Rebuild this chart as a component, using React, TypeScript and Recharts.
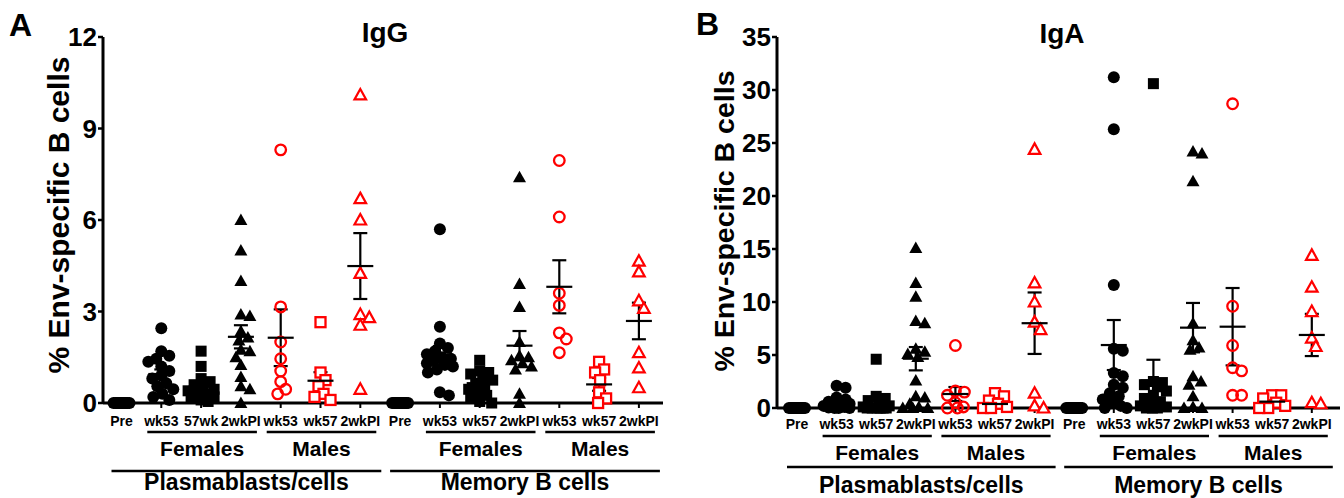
import React from "react";
import { ScatterChart, Scatter, XAxis, YAxis, ErrorBar } from "recharts";

const FONT = "'Liberation Sans', Arial, Helvetica, sans-serif";
const RED = "#ff0000";

// x-axis groups (same order in both panels)
const groupsIgG = ["Pre", "wk53", "57wk", "2wkPI", "wk53", "wk57", "2wkPI", "Pre", "wk53", "wk57", "2wkPI", "wk53", "wk57", "2wkPI"];
const groupsIgA = ["Pre", "wk53", "wk57", "2wkPI", "wk53", "wk57", "2wkPI", "Pre", "wk53", "wk57", "2wkPI", "wk53", "wk57", "2wkPI"];
const groupMarkers = ["dot", "dot", "square", "triangle", "ocircle", "osquare", "otriangle", "dot", "dot", "square", "triangle", "ocircle", "osquare", "otriangle"];

const brackets = [
  { from: 1, to: 3, label: "Females", level: 1 },
  { from: 4, to: 6, label: "Males", level: 1 },
  { from: 0, to: 6, label: "Plasmablasts/cells", level: 2 },
  { from: 8, to: 10, label: "Females", level: 1 },
  { from: 11, to: 13, label: "Males", level: 1 },
  { from: 7, to: 13, label: "Memory B cells", level: 2 },
];

// ---- IgG values (% Env-specific B cells)
const iggPlasmaPre = [0, 0, 0, 0, 0, 0, 0, 0, 0, 0, 0, 0, 0, 0, 0];
const iggPlasmaFemWk53 = [2.45, 1.7, 1.55, 1.45, 1.35, 1.2, 1.05, 0.9, 0.8, 0.65, 0.55, 0.45, 0.3, 0.2, 0.1];
const iggPlasmaFemWk57 = [1.7, 1.2, 0.8, 0.7, 0.6, 0.55, 0.45, 0.4, 0.35, 0.3, 0.2, 0.15, 0.1, 0.05];
const iggPlasmaFem2wkPI = [6.0, 5.0, 4.0, 2.9, 2.85, 2.35, 2.15, 2.05, 1.75, 1.7, 1.5, 1.25, 0.85, 0.55, 0.45, 0];
const iggPlasmaMaleWk53 = [8.3, 3.15, 2.0, 1.45, 1.05, 0.7, 0.45, 0.3];
const iggPlasmaMaleWk57 = [2.65, 1.0, 0.75, 0.55, 0.3, 0.2, 0.1];
const iggPlasmaMale2wkPI = [10.1, 6.7, 6.0, 4.25, 2.9, 2.8, 2.55, 0.45];
const iggMemPre = [0, 0, 0, 0, 0, 0, 0, 0, 0, 0, 0, 0, 0, 0, 0];
const iggMemFemWk53 = [5.7, 2.5, 1.95, 1.8, 1.7, 1.6, 1.5, 1.45, 1.4, 1.3, 1.25, 1.2, 1.1, 1.0, 0.35, 0.25];
const iggMemFemWk57 = [1.4, 1.05, 1.0, 0.95, 0.85, 0.75, 0.65, 0.55, 0.45, 0.35, 0.25, 0.15, 0.05, 0];
const iggMemFem2wkPI = [7.4, 3.9, 3.15, 2.0, 1.55, 1.5, 1.4, 1.3, 1.2, 1.1, 0.3, 0];
const iggMemMaleWk53 = [7.95, 6.1, 3.6, 3.2, 2.3, 2.1, 1.65];
const iggMemMaleWk57 = [1.35, 1.1, 1.0, 0.75, 0.35, 0.15, 0];
const iggMemMale2wkPI = [4.65, 4.3, 3.35, 3.1, 1.65, 1.15, 0.5];
const iggMeans = [null, 0.95, 0.53, 2.17, 2.14, 0.73, 4.49, null, 1.57, 0.65, 1.88, 3.81, 0.61, 2.69];
const iggSems = [0, 0.15, 0.13, 0.38, 0.93, 0.28, 1.08, 0, 0.3, 0.1, 0.48, 0.87, 0.21, 0.6];

// ---- IgA values
const igaPlasmaPre = [0, 0, 0, 0, 0, 0, 0, 0, 0, 0, 0, 0, 0, 0, 0];
const igaPlasmaFemWk53 = [2.1, 1.9, 1.0, 0.8, 0.6, 0.5, 0.4, 0.3, 0.2, 0.1, 0.05, 0, 0, 0];
const igaPlasmaFemWk57 = [4.6, 1.1, 0.9, 0.7, 0.4, 0.2, 0.1, 0, 0, 0, 0, 0, 0];
const igaPlasmaFem2wkPI = [15.1, 11.8, 10.5, 8.2, 8.0, 5.6, 5.3, 5.1, 4.8, 2.6, 1.1, 1.0, 0.4, 0.1, 0, 0, 0];
const igaPlasmaMaleWk53 = [5.9, 1.6, 1.5, 1.2, 0.5, 0.1, 0, 0];
const igaPlasmaMaleWk57 = [1.4, 1.1, 0.7, 0.4, 0.1, 0, 0];
const igaPlasmaMale2wkPI = [24.4, 11.8, 10.0, 8.1, 7.4, 1.4, 0.2, 0];
const igaMemPre = [0, 0, 0, 0, 0, 0, 0, 0, 0, 0, 0, 0, 0, 0, 0];
const igaMemFemWk53 = [31.2, 26.3, 11.6, 5.6, 5.4, 3.3, 3.0, 2.2, 1.9, 1.4, 1.1, 0.8, 0.5, 0.2, 0, 0];
const igaMemFemWk57 = [30.6, 2.5, 2.4, 2.2, 2.0, 1.6, 1.2, 0.9, 0.6, 0.4, 0.2, 0.1, 0, 0, 0];
const igaMemFem2wkPI = [24.2, 24.0, 21.4, 8.0, 6.4, 5.7, 5.5, 3.0, 2.5, 2.2, 1.1, 0.1, 0, 0];
const igaMemMaleWk53 = [28.7, 9.6, 5.9, 3.8, 3.5, 1.2, 1.2];
const igaMemMaleWk57 = [1.2, 1.2, 0.9, 0.5, 0.2, 0, 0];
const igaMemMale2wkPI = [14.4, 11.4, 9.1, 6.6, 5.8, 0.5, 0.4];
const igaMeans = [null, 0.55, 0.62, 4.65, 1.32, 0.38, 8.0, null, 5.94, 2.6, 7.58, 7.67, 0.6, 6.89];
const igaSems = [0, 0.2, 0.35, 1.1, 0.66, 0.15, 2.9, 0, 2.36, 1.95, 2.33, 3.65, 0.15, 1.99];

const iggTicks = [0, 3, 6, 9, 12];
const igaTicks = [0, 5, 10, 15, 20, 25, 30, 35];

// simple beeswarm: spread points sideways (pixels) so markers don't pile up
function swarm(values: number[], pxPerUnit: number, spread: number, gap = 9) {
  const order = values.map((_, i) => i).sort((a, b) => values[b] - values[a]);
  const placed: { dx: number; py: number }[] = [];
  const out = new Array(values.length).fill(0);
  const cands: number[] = [];
  for (let d = 0; d <= spread; d++) {
    cands.push(d);
    if (d) cands.push(-d);
  }
  for (const i of order) {
    const py = values[i] * pxPerUnit;
    let best = 0;
    let bestD = -1;
    for (const dx of cands) {
      let m = Infinity;
      for (const p of placed) m = Math.min(m, Math.hypot(p.dx - dx, p.py - py));
      if (m >= gap) {
        best = dx;
        break;
      }
      if (m > bestD) {
        bestD = m;
        best = dx;
      }
    }
    placed.push({ dx: best, py });
    out[i] = best;
  }
  return out;
}

function Marker({ cx, cy, kind }: { cx: number; cy: number; kind: string }) {
  if (cx == null || cy == null) return null;
  switch (kind) {
    case "square":
      return <rect x={cx - 5.5} y={cy - 5.5} width={11} height={11} fill="#000" />;
    case "triangle":
      return <path d={`M${cx},${cy - 6.5}L${cx + 6.5},${cy + 5}L${cx - 6.5},${cy + 5}Z`} fill="#000" />;
    case "ocircle":
      return <circle cx={cx} cy={cy} r={5.3} fill="none" stroke={RED} strokeWidth={2.3} />;
    case "osquare":
      return <rect x={cx - 5} y={cy - 5} width={10} height={10} fill="#fff" stroke={RED} strokeWidth={2.3} />;
    case "otriangle":
      return (
        <path d={`M${cx},${cy - 6}L${cx + 5.8},${cy + 4.5}L${cx - 5.8},${cy + 4.5}Z`} fill="#fff" stroke={RED} strokeWidth={2.2} />
      );
    default:
      return <circle cx={cx} cy={cy} r={6} fill="#000" />;
  }
}

function MeanLine(p: any) {
  if (p.cx == null) return null;
  return <line x1={p.cx - 13} x2={p.cx + 13} y1={p.cy} y2={p.cy} stroke="#000" strokeWidth={2.2} />;
}

type Cfg = {
  w: number;
  plotLeft: number;
  plotRight: number;
  plotTop: number;
  plotBottom: number;
  firstX: number;
  step: number;
  yMax: number;
  yTicks: number[];
  labels: string[];
  series: number[][];
  means: (number | null)[];
  sems: number[];
  labelDy: number;
  l1: number;
  t1: number;
  l2: number;
  t2: number;
};

function Panel({ cfg }: { cfg: Cfg }) {
  const { w, plotLeft, plotRight, plotTop, plotBottom, step, yMax } = cfg;
  const pxPerUnit = (plotBottom - plotTop) / yMax;
  const xMin = -(cfg.firstX - plotLeft) / step;
  const xMax = xMin + (plotRight - plotLeft) / step;

  const scatterData = cfg.series.map((vals, g) => {
    const dx = swarm(vals, pxPerUnit, g % 7 === 0 ? 8 : 13);
    return vals.map((v, i) => ({ x: g + dx[i] / step, y: v }));
  });
  const meanData = cfg.means
    .map((m, g) => (m == null ? null : { x: g, y: m, err: cfg.sems[g] }))
    .filter(Boolean) as { x: number; y: number; err: number }[];

  const XTick = (props: any) => {
    const { x, payload } = props;
    const g = payload.value as number;
    const ay = plotBottom;
    const txt = { fontFamily: FONT, fontWeight: "bold" as const, fill: "#000", textAnchor: "middle" as const };
    return (
      <g>
        <text x={x} y={ay + cfg.labelDy} fontSize={14} {...txt}>
          {cfg.labels[g]}
        </text>
        {brackets
          .filter((b) => b.from === g)
          .map((b, k) => {
            const x1 = x + (b.level === 1 ? -14 : -10);
            const x2 = x + (b.to - b.from) * step + (b.level === 1 ? 16 : 21);
            const ly = ay + (b.level === 1 ? cfg.l1 : cfg.l2);
            const ty = ay + (b.level === 1 ? cfg.t1 : cfg.t2);
            return (
              <g key={k}>
                <line x1={x1} x2={x2} y1={ly} y2={ly} stroke="#000" strokeWidth={2.5} />
                <text x={(x1 + x2) / 2} y={ty} fontSize={b.level === 1 ? 21 : 23} {...txt}>
                  {b.label}
                </text>
              </g>
            );
          })}
      </g>
    );
  };

  return (
    <ScatterChart
      width={w}
      height={498}
      margin={{ top: plotTop, right: w - plotRight, bottom: 498 - plotBottom - 30, left: plotLeft - 60 }}
    >
      <XAxis
        type="number"
        dataKey="x"
        domain={[xMin, xMax]}
        ticks={cfg.labels.map((_, i) => i)}
        interval={0}
        height={30}
        tickSize={5}
        axisLine={{ stroke: "#000", strokeWidth: 3 }}
        tickLine={{ stroke: "#000", strokeWidth: 2 }}
        tick={XTick}
      />
      <YAxis
        type="number"
        dataKey="y"
        domain={[0, yMax]}
        ticks={cfg.yTicks}
        interval={0}
        width={60}
        tickSize={5}
        tickMargin={1}
        axisLine={{ stroke: "#000", strokeWidth: 3 }}
        tickLine={{ stroke: "#000", strokeWidth: 2.5 }}
        tick={{ fill: "#000", fontSize: 26, fontWeight: "bold", fontFamily: FONT }}
      />
      {scatterData.map((d, g) => (
        <Scatter
          key={g}
          data={d}
          isAnimationActive={false}
          shape={(p: any) => <Marker cx={p.cx} cy={p.cy} kind={groupMarkers[g]} />}
        />
      ))}
      <Scatter data={meanData} isAnimationActive={false} shape={MeanLine}>
        <ErrorBar dataKey="err" direction="y" width={7} stroke="#000" strokeWidth={2.2} isAnimationActive={false} />
      </Scatter>
    </ScatterChart>
  );
}

const cfgA: Cfg = {
  w: 680,
  plotLeft: 103,
  plotRight: 663,
  plotTop: 37,
  plotBottom: 403,
  firstX: 121.5,
  step: 39.8,
  yMax: 12,
  yTicks: iggTicks,
  labels: groupsIgG,
  series: [
    iggPlasmaPre, iggPlasmaFemWk53, iggPlasmaFemWk57, iggPlasmaFem2wkPI, iggPlasmaMaleWk53, iggPlasmaMaleWk57, iggPlasmaMale2wkPI,
    iggMemPre, iggMemFemWk53, iggMemFemWk57, iggMemFem2wkPI, iggMemMaleWk53, iggMemMaleWk57, iggMemMale2wkPI,
  ],
  means: iggMeans,
  sems: iggSems,
  labelDy: 23,
  l1: 29,
  t1: 52.5,
  l2: 68,
  t2: 87,
};

const cfgB: Cfg = {
  w: 664,
  plotLeft: 97,
  plotRight: 660,
  plotTop: 37,
  plotBottom: 408,
  firstX: 117,
  step: 39.6,
  yMax: 35,
  yTicks: igaTicks,
  labels: groupsIgA,
  series: [
    igaPlasmaPre, igaPlasmaFemWk53, igaPlasmaFemWk57, igaPlasmaFem2wkPI, igaPlasmaMaleWk53, igaPlasmaMaleWk57, igaPlasmaMale2wkPI,
    igaMemPre, igaMemFemWk53, igaMemFemWk57, igaMemFem2wkPI, igaMemMaleWk53, igaMemMaleWk57, igaMemMale2wkPI,
  ],
  means: igaMeans,
  sems: igaSems,
  labelDy: 21,
  l1: 28,
  t1: 51.5,
  l2: 59,
  t2: 85,
};

export default function App() {
  const bold = { fontFamily: FONT, fontWeight: "bold" as const, fill: "#000" };
  return (
    <div style={{ position: "absolute", left: 0, top: 0, width: 1344, height: 498, background: "#fff", overflow: "hidden" }}>
      <div style={{ position: "absolute", left: 0, top: 0 }}>
        <Panel cfg={cfgA} />
      </div>
      <div style={{ position: "absolute", left: 680, top: 0 }}>
        <Panel cfg={cfgB} />
      </div>
      <svg width={1344} height={498} style={{ position: "absolute", left: 0, top: 0, pointerEvents: "none" }}>
        <text x={9} y={36} fontSize={32} {...bold}>A</text>
        <text x={696} y={35} fontSize={32} {...bold}>B</text>
        <text x={385} y={42} fontSize={28} textAnchor="middle" {...bold}>IgG</text>
        <text x={1062} y={43} fontSize={28} textAnchor="middle" {...bold}>IgA</text>
        <text x={58} y={215} fontSize={30} textAnchor="middle" dominantBaseline="central" transform="rotate(-90 58 215)" {...bold}>
          % Env-specific B cells
        </text>
        <text x={724} y={221} fontSize={28.5} textAnchor="middle" dominantBaseline="central" transform="rotate(-90 724 221)" {...bold}>
          % Env-specific B cells
        </text>
      </svg>
    </div>
  );
}
